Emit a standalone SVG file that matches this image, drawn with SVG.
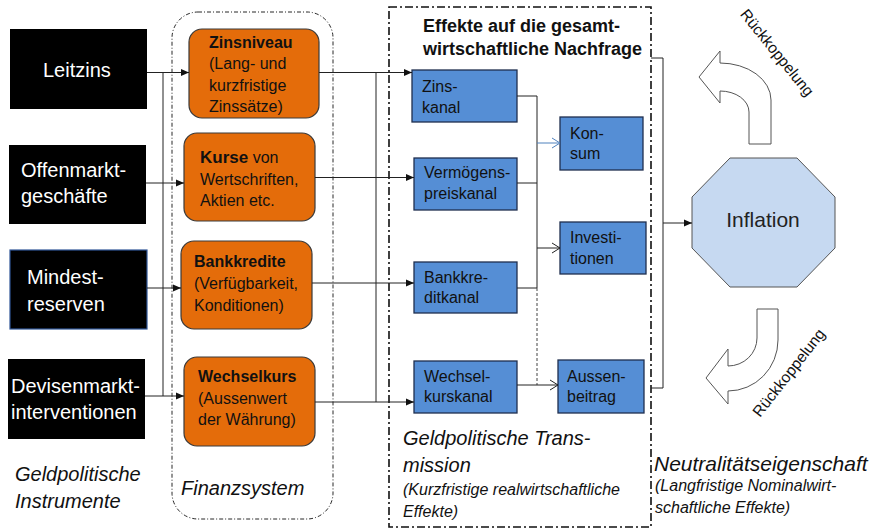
<svg xmlns="http://www.w3.org/2000/svg" width="874" height="529" viewBox="0 0 874 529">
<style>
text{font-family:"Liberation Sans",Arial,sans-serif;}
.inst rect{fill:#000;}
.inst text{fill:#fff;font-size:20px;}
.fin rect{fill:#E46C0A;stroke:#3a3a3a;stroke-width:1.2;}
.fin text{fill:#111;font-size:16px;}
.b{font-weight:bold;}
.bl rect{fill:#558ED5;stroke:#1F2F4F;stroke-width:1.3;}
.bl text{fill:#111;font-size:16px;}
.it{font-style:italic;fill:#111;}
.ln{stroke:#222;stroke-width:1;fill:none;}
</style>
<defs>
<marker id="af" markerUnits="userSpaceOnUse" markerWidth="10" markerHeight="10" refX="9" refY="5" orient="auto"><path d="M1,1.5 L9,5 L1,8.5 Z" fill="#111"/></marker>
<marker id="ch" markerUnits="userSpaceOnUse" markerWidth="12" markerHeight="12" refX="10" refY="6" orient="auto"><path d="M2,1 L10,6 L2,11" fill="none" stroke="#222" stroke-width="1"/></marker>
<marker id="chb" markerUnits="userSpaceOnUse" markerWidth="12" markerHeight="12" refX="10" refY="6" orient="auto"><path d="M2,1 L10,6 L2,11" fill="none" stroke="#4F81BD" stroke-width="1"/></marker>
</defs>
<rect width="874" height="529" fill="#fff"/>

<g id="container-finanzsystem">
<rect x="172" y="12" width="161" height="507" rx="26" fill="none" stroke="#111" stroke-width="0.9" stroke-dasharray="4 2 1 2"/>
<text class="it" x="181" y="495" font-size="20">Finanzsystem</text>
</g>
<g id="container-effekte">
<rect x="389" y="7" width="262" height="520" fill="none" stroke="#111" stroke-width="1.6" stroke-dasharray="8 3 2 3"/>
<text class="b" x="423" y="32" font-size="18" fill="#111">Effekte auf die gesamt-</text>
<text class="b" x="423" y="55" font-size="18" fill="#111">wirtschaftliche Nachfrage</text>
<text class="it" x="403" y="445" font-size="20">Geldpolitische Trans-</text>
<text class="it" x="403" y="472" font-size="20">mission</text>
<text class="it" x="403" y="495" font-size="16">(Kurzfristige realwirtschaftliche</text>
<text class="it" x="403" y="517" font-size="16">Effekte)</text>
</g>

<g id="label-instrumente">
<text class="it" x="15" y="481" font-size="20">Geldpolitische</text>
<text class="it" x="15" y="508" font-size="20">Instrumente</text>
</g>
<g id="label-neutralitaet">
<text class="it" x="654" y="471" font-size="21">Neutralitätseigenschaft</text>
<text class="it" x="655" y="491" font-size="16">(Langfristige Nominalwirt-</text>
<text class="it" x="655" y="513" font-size="16">schaftliche Effekte)</text>
</g>

<g id="leitzins" class="inst"><rect x="10" y="29" width="137" height="80"/><text x="43" y="77">Leitzins</text></g>
<g id="offenmarkt" class="inst"><rect x="9" y="145" width="137" height="79"/><text x="21" y="177">Offenmarkt-</text><text x="21" y="203">geschäfte</text></g>
<g id="mindestreserven" class="inst"><rect x="10" y="250" width="137" height="79" stroke="#2F5597" stroke-width="1.2"/><text x="27" y="284">Mindest-</text><text x="27" y="311">reserven</text></g>
<g id="devisen" class="inst"><rect x="8" y="359" width="137" height="80"/><text x="11" y="393">Devisenmarkt-</text><text x="11" y="419">interventionen</text></g>

<g id="zinsniveau" class="fin"><rect x="189" y="29" width="130" height="89" rx="13"/><text class="b" x="209" y="47.5" font-size="17">Zinsniveau</text><text x="209" y="69">(Lang- und</text><text x="209" y="90.5">kurzfristige</text><text x="209" y="112">Zinssätze)</text></g>
<g id="kurse" class="fin"><rect x="184" y="133" width="131" height="88" rx="13"/><text x="200" y="163"><tspan class="b" font-size="17">Kurse</tspan> von</text><text x="200" y="184.5">Wertschriften,</text><text x="200" y="206">Aktien etc.</text></g>
<g id="bankkredite" class="fin"><rect x="181" y="241" width="131" height="88" rx="13"/><text class="b" x="194" y="267" font-size="17">Bankkredite</text><text x="194" y="289">(Verfügbarkeit,</text><text x="194" y="311">Konditionen)</text></g>
<g id="wechselkurs" class="fin"><rect x="184" y="357" width="131" height="89" rx="13"/><text class="b" x="198" y="382" font-size="17">Wechselkurs</text><text x="198" y="404">(Aussenwert</text><text x="198" y="425">der Währung)</text></g>

<g id="zinskanal" class="bl"><rect x="412" y="70" width="105" height="52"/><text x="422" y="92">Zins-</text><text x="422" y="113">kanal</text></g>
<g id="vermoegenspreiskanal" class="bl"><rect x="414" y="158" width="103" height="52"/><text x="424" y="178">Vermögens-</text><text x="424" y="199">preiskanal</text></g>
<g id="bankkreditkanal" class="bl"><rect x="414" y="262" width="103" height="51"/><text x="424" y="283">Bankkre-</text><text x="424" y="303">ditkanal</text></g>
<g id="wechselkurskanal" class="bl"><rect x="414" y="361" width="103" height="52"/><text x="424" y="382">Wechsel-</text><text x="424" y="402">kurskanal</text></g>
<g id="konsum" class="bl"><rect x="560" y="117" width="83" height="53"/><text x="570" y="139">Kon-</text><text x="570" y="159">sum</text></g>
<g id="investitionen" class="bl"><rect x="560" y="222" width="86" height="52"/><text x="570" y="243">Investi-</text><text x="570" y="264">tionen</text></g>
<g id="aussenbeitrag" class="bl"><rect x="558" y="360" width="86" height="53"/><text x="567" y="382">Aussen-</text><text x="567" y="402">beitrag</text></g>

<g id="inflation">
<polygon points="730,158 797,158 835,197 835,248 797,287 730,287 692,248 692,197" fill="#C6D9F1" stroke="#555" stroke-width="1"/>
<text x="763" y="227" font-size="21" text-anchor="middle" fill="#222">Inflation</text>
</g>

<g id="rueckkopplung-oben">
<path d="M749,144 V112 A29,21 0 0 0 720,91 V103 L699,77 L720,51 V63 A51,37 0 0 1 771,100 V144 Z" fill="#fff" stroke="#555" stroke-width="1"/>
<text transform="translate(773,56) rotate(51)" font-size="15.5" text-anchor="middle" fill="#111">Rückkoppelung</text>
</g>
<g id="rueckkopplung-unten">
<path d="M757,309 H778 V340 A50,51 0 0 1 728,391 V404 L706,378 L728,349 V366 A29,28 0 0 0 757,338 Z" fill="#fff" stroke="#555" stroke-width="1"/>
<text transform="translate(793,376) rotate(-52)" font-size="15.5" text-anchor="middle" fill="#111">Rückkoppelung</text>
</g>

<g id="connectors">
<line class="ln" x1="163" y1="72.5" x2="163" y2="396"/>
<line class="ln" x1="147" y1="72.5" x2="189" y2="72.5" marker-end="url(#af)"/>
<line class="ln" x1="146" y1="183" x2="184" y2="183" marker-end="url(#af)"/>
<line class="ln" x1="147" y1="288" x2="181" y2="288" marker-end="url(#af)"/>
<line class="ln" x1="145" y1="396" x2="184" y2="396" marker-end="url(#af)"/>

<line class="ln" x1="376" y1="72.5" x2="376" y2="402"/>
<line class="ln" x1="319" y1="72.5" x2="412" y2="72.5" marker-end="url(#af)"/>
<line class="ln" x1="315" y1="177.5" x2="414" y2="177.5" marker-end="url(#af)"/>
<line class="ln" x1="312" y1="283" x2="414" y2="283" marker-end="url(#af)"/>
<line class="ln" x1="315" y1="402" x2="414" y2="402" marker-end="url(#af)"/>

<polyline class="ln" points="517,96 537,96 537,288"/>
<line class="ln" x1="517" y1="183" x2="537" y2="183"/>
<line class="ln" x1="517" y1="288" x2="537" y2="288"/>
<line x1="537" y1="288" x2="537" y2="385" stroke="#444" stroke-width="1" stroke-dasharray="3 2"/>
<line x1="537" y1="143" x2="560" y2="143" stroke="#4F81BD" stroke-width="1" marker-end="url(#chb)"/>
<line class="ln" x1="537" y1="248" x2="560" y2="248" marker-end="url(#ch)"/>
<line class="ln" x1="517" y1="385" x2="558" y2="385" marker-end="url(#ch)"/>

<polyline class="ln" points="651,58 663,58 663,388 651,388"/>
<line class="ln" x1="663" y1="223" x2="692" y2="223" marker-end="url(#af)"/>
</g>
</svg>
